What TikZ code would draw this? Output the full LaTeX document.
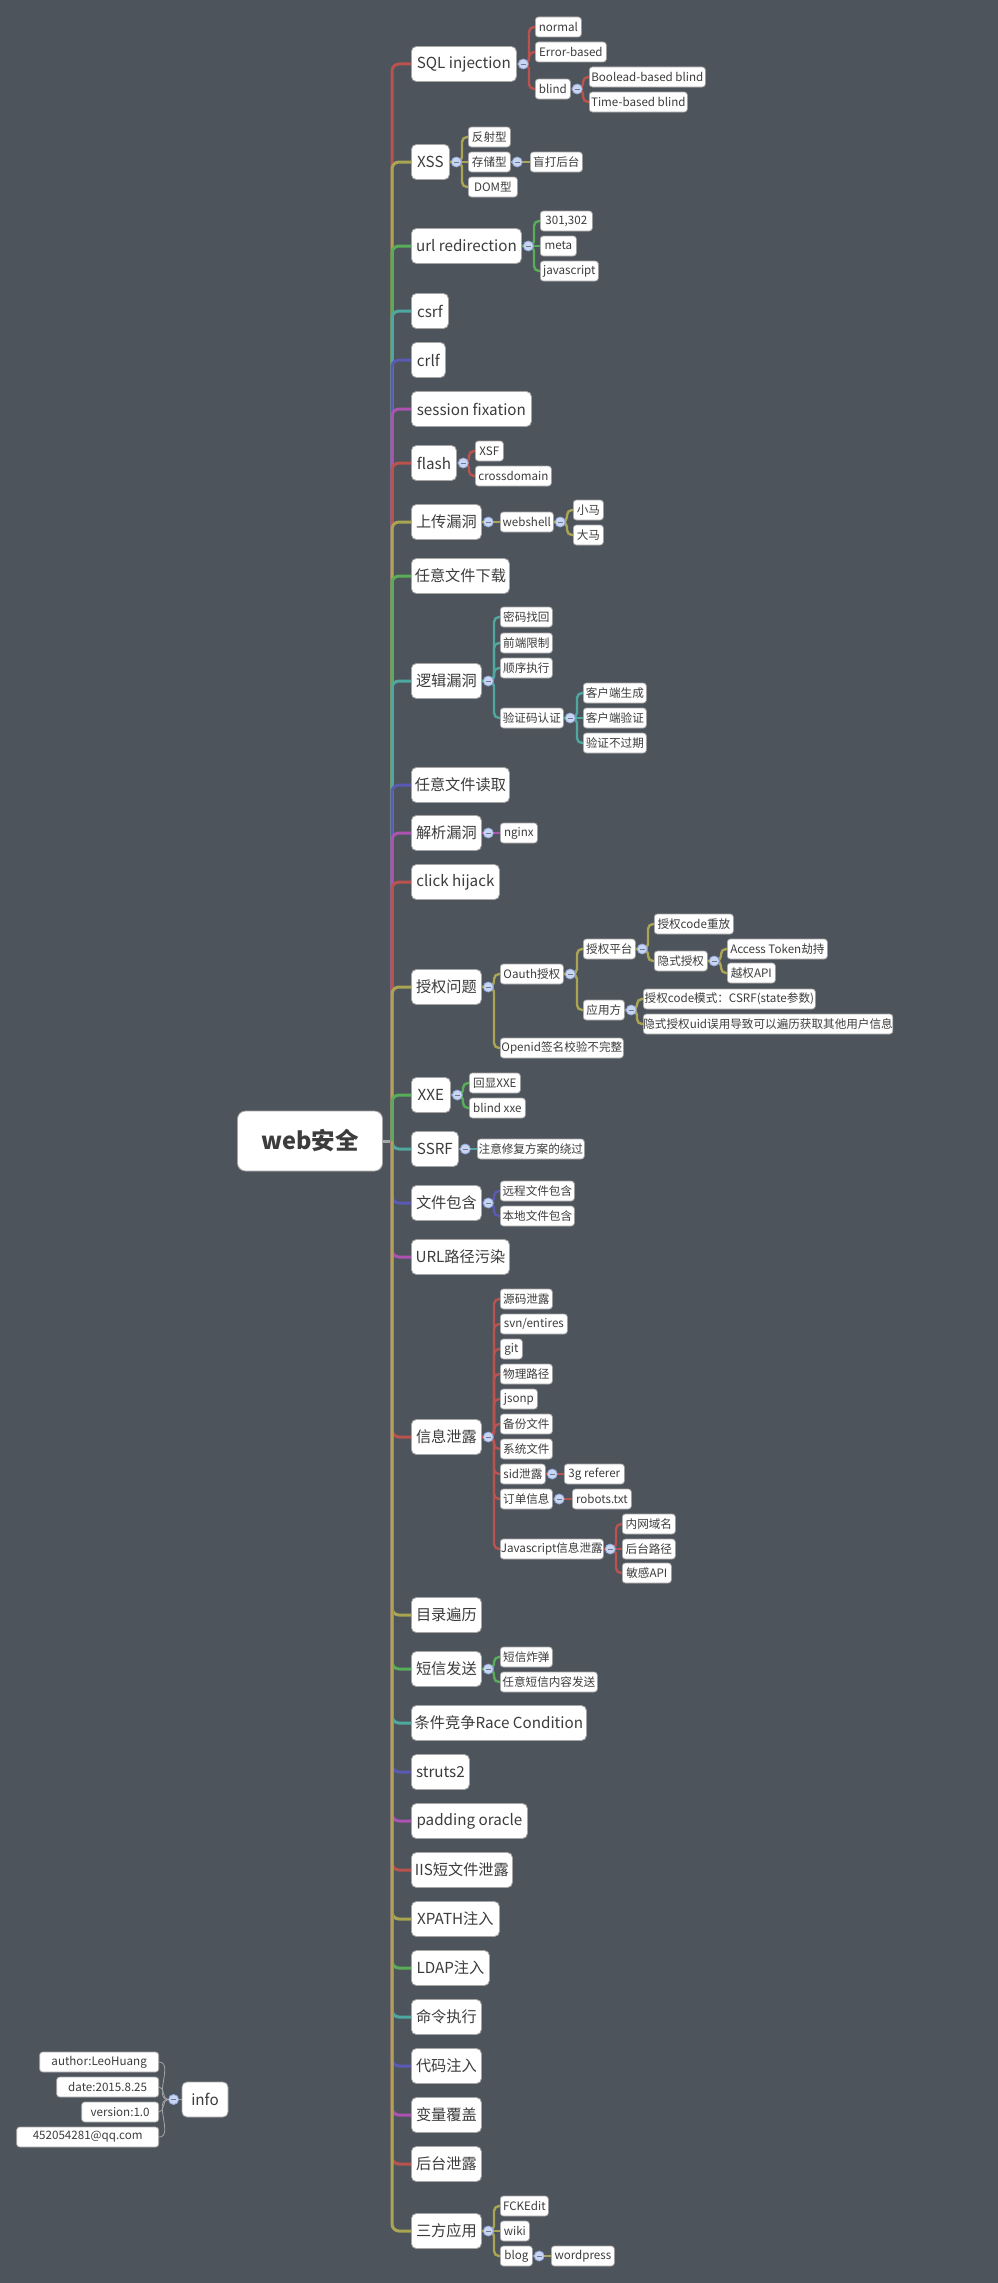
\documentclass[tikz,border=0pt]{standalone}
\usepackage{fontspec}
\setmainfont{Noto Sans CJK SC}
\usetikzlibrary{calc}
\definecolor{bgc}{RGB}{78,84,92}
\definecolor{cred}{RGB}{186,82,78}
\definecolor{colive}{RGB}{170,165,82}
\definecolor{cgreen}{RGB}{88,174,88}
\definecolor{cteal}{RGB}{78,168,160}
\definecolor{cblue}{RGB}{90,90,180}
\definecolor{cmag}{RGB}{172,82,176}
\definecolor{bordc}{RGB}{165,165,165}
\definecolor{txt}{RGB}{60,60,60}
\definecolor{circfill}{RGB}{200,214,242}
\definecolor{circdraw}{RGB}{150,170,220}
\definecolor{circminus}{RGB}{110,120,150}
\pgfdeclarelayer{bglayer}
\pgfdeclarelayer{linelayer}
\pgfsetlayers{bglayer,linelayer,main}
\tikzset{
  mn/.style={draw=bordc, line width=0.8pt, fill=white, rounded corners=5pt, minimum height=35pt, inner sep=0pt, anchor=west, text=txt, font=\fontsize{15.2}{16}\selectfont},
  sn/.style={draw=bordc, line width=0.7pt, fill=white, rounded corners=3pt, minimum height=20pt, inner sep=0pt, anchor=west, text=txt, font=\fontsize{11.6}{12}\selectfont},
  mb/.style={line width=3pt, rounded corners=7pt},
  sb/.style={line width=2.4pt, rounded corners=5pt},
  circ/.style={circle, fill=circfill, draw=circdraw, line width=0.8pt, minimum size=10pt, inner sep=0pt,
    path picture={\draw[circminus, line width=0.9pt] ([xshift=-2.5pt]path picture bounding box.center) -- ([xshift=2.5pt]path picture bounding box.center);}}
}
\begin{document}
\begin{tikzpicture}[x=1pt,y=-1pt]
\begin{pgfonlayer}{bglayer}
\fill[bgc] (0,0) rectangle (998,2283);
\end{pgfonlayer}
\useasboundingbox (0,0) rectangle (998,2283);

% root
\node[draw=bordc, line width=0.8pt, fill=white, rounded corners=8pt, minimum width=145pt, minimum height=60pt, inner sep=0pt, text=txt, font=\fontsize{23.5}{26}\selectfont\bfseries] (root) at (310,1141) {web安全};
\coordinate (hub) at (392,1141);

% main topics
\node[mn, minimum width=105pt] (sql) at (411,64) {SQL injection};
\node[mn, minimum width=38pt] (xss) at (411,162) {XSS};
\node[mn, minimum width=110pt] (url) at (411,246) {url redirection};
\node[mn, minimum width=37pt] (csrf) at (411,311) {csrf};
\node[mn, minimum width=34pt] (crlf) at (411,360) {crlf};
\node[mn, minimum width=120pt] (sess) at (411,409) {session fixation};
\node[mn, minimum width=45pt] (flash) at (411,463) {flash};
\node[mn, minimum width=70pt] (upl) at (411,522) {上传漏洞};
\node[mn, minimum width=98pt] (dl) at (411,576) {任意文件下载};
\node[mn, minimum width=70pt] (logic) at (411,681) {逻辑漏洞};
\node[mn, minimum width=98pt] (rd) at (411,785) {任意文件读取};
\node[mn, minimum width=70pt] (parse) at (411,833) {解析漏洞};
\node[mn, minimum width=88pt] (click) at (411,882) {click hijack};
\node[mn, minimum width=70pt] (auth) at (411,987) {授权问题};
\node[mn, minimum width=39pt] (xxe) at (411,1095) {XXE};
\node[mn, minimum width=47pt] (ssrf) at (411,1149) {SSRF};
\node[mn, minimum width=70pt] (incl) at (411,1203) {文件包含};
\node[mn, minimum width=98pt] (urlp) at (411,1257) {URL路径污染};
\node[mn, minimum width=70pt] (leak) at (411,1437) {信息泄露};
\node[mn, minimum width=70pt] (dir) at (411,1615) {目录遍历};
\node[mn, minimum width=70pt] (sms) at (411,1669) {短信发送};
\node[mn, minimum width=175pt] (race) at (411,1723) {条件竞争Race Condition};
\node[mn, minimum width=58pt] (struts) at (411,1772) {struts2};
\node[mn, minimum width=116pt] (pad) at (411,1821) {padding oracle};
\node[mn, minimum width=101pt] (iis) at (411,1870) {IIS短文件泄露};
\node[mn, minimum width=88pt] (xpath) at (411,1919) {XPATH注入};
\node[mn, minimum width=78pt] (ldap) at (411,1968) {LDAP注入};
\node[mn, minimum width=70pt] (cmd) at (411,2017) {命令执行};
\node[mn, minimum width=70pt] (code) at (411,2066) {代码注入};
\node[mn, minimum width=70pt] (var) at (411,2115) {变量覆盖};
\node[mn, minimum width=70pt] (back) at (411,2164) {后台泄露};
\node[mn, minimum width=70pt] (third) at (411,2231) {三方应用};

% sub topics
\node[sn, minimum width=46pt] (s1) at (535,27) {normal};
\node[sn, minimum width=71pt] (s2) at (535,52) {Error-based};
\node[sn, minimum width=35pt] (s3) at (535,89) {blind};
\node[sn, minimum width=116pt] (s31) at (589,77) {Boolead-based blind};
\node[sn, minimum width=98pt] (s32) at (589,102) {Time-based blind};

\node[sn, minimum width=42pt] (x1) at (468,137) {反射型};
\node[sn, minimum width=42pt] (x2) at (468,162) {存储型};
\node[sn, minimum width=52pt] (x21) at (530,162) {盲打后台};
\node[sn, minimum width=49pt] (x3) at (468,187) {DOM型};

\node[sn, minimum width=52pt] (u1) at (540,221) {301,302};
\node[sn, minimum width=36pt] (u2) at (540,246) {meta};
\node[sn, minimum width=58pt] (u3) at (540,271) {javascript};

\node[sn, minimum width=28pt] (f1) at (475,451) {XSF};
\node[sn, minimum width=76pt] (f2) at (475,476) {crossdomain};

\node[sn, minimum width=53pt] (w1) at (500,522) {webshell};
\node[sn, minimum width=30pt] (w11) at (573,510) {小马};
\node[sn, minimum width=30pt] (w12) at (573,535) {大马};

\node[sn, minimum width=52pt] (l1) at (500,617) {密码找回};
\node[sn, minimum width=52pt] (l2) at (500,643) {前端限制};
\node[sn, minimum width=52pt] (l3) at (500,668) {顺序执行};
\node[sn, minimum width=63pt] (l4) at (500,718) {验证码认证};
\node[sn, minimum width=63pt] (l41) at (583,693) {客户端生成};
\node[sn, minimum width=63pt] (l42) at (583,718) {客户端验证};
\node[sn, minimum width=63pt] (l43) at (583,743) {验证不过期};

\node[sn, minimum width=37pt] (p1) at (500,833) {nginx};

\node[sn, minimum width=63pt] (a1) at (500,974) {Oauth授权};
\node[sn, minimum width=52pt] (a11) at (583,949) {授权平台};
\node[sn, minimum width=79pt] (a111) at (654,924) {授权code重放};
\node[sn, minimum width=53pt] (a112) at (654,961) {隐式授权};
\node[sn, minimum width=100pt] (a1121) at (727,949) {Access Token劫持};
\node[sn, minimum width=48pt] (a1122) at (727,973) {越权API};
\node[sn, minimum width=41pt] (a12) at (583,1010) {应用方};
\node[sn, minimum width=172pt] (a121) at (643,999) {授权code模式：CSRF(state参数)};
\node[sn, minimum width=245pt] (a122) at (643,1024) {隐式授权uid误用导致可以遍历获取其他用户信息};
\node[sn, minimum width=123pt] (a2) at (500,1048) {Openid签名校验不完整};

\node[sn, minimum width=51pt] (e1) at (469,1083) {回显XXE};
\node[sn, minimum width=56pt] (e2) at (469,1108) {blind xxe};

\node[sn, minimum width=107pt] (r1) at (477,1149) {注意修复方案的绕过};

\node[sn, minimum width=74pt] (i1) at (500,1191) {远程文件包含};
\node[sn, minimum width=74pt] (i2) at (500,1216) {本地文件包含};

\node[sn, minimum width=52pt] (k1) at (500,1299) {源码泄露};
\node[sn, minimum width=67pt] (k2) at (500,1324) {svn/entires};
\node[sn, minimum width=22pt] (k3) at (500,1349) {git};
\node[sn, minimum width=52pt] (k4) at (500,1374) {物理路径};
\node[sn, minimum width=37pt] (k5) at (500,1399) {jsonp};
\node[sn, minimum width=52pt] (k6) at (500,1424) {备份文件};
\node[sn, minimum width=52pt] (k7) at (500,1449) {系统文件};
\node[sn, minimum width=45pt] (k8) at (500,1474) {sid泄露};
\node[sn, minimum width=60pt] (k81) at (564,1474) {3g referer};
\node[sn, minimum width=52pt] (k9) at (500,1499) {订单信息};
\node[sn, minimum width=59pt] (k91) at (572,1499) {robots.txt};
\node[sn, minimum width=103pt] (k10) at (500,1549) {Javascript信息泄露};
\node[sn, minimum width=53pt] (k101) at (622,1524) {内网域名};
\node[sn, minimum width=53pt] (k102) at (622,1549) {后台路径};
\node[sn, minimum width=49pt] (k103) at (622,1573) {敏感API};

\node[sn, minimum width=52pt] (m1) at (500,1657) {短信炸弹};
\node[sn, minimum width=97pt] (m2) at (500,1682) {任意短信内容发送};

\node[sn, minimum width=48pt] (t1) at (500,2206) {FCKEdit};
\node[sn, minimum width=29pt] (t2) at (500,2231) {wiki};
\node[sn, minimum width=32pt] (t3) at (500,2256) {blog};
\node[sn, minimum width=63pt] (t31) at (551,2256) {wordpress};

% info floating topic
\node[mn, anchor=center, minimum width=46pt] (info) at (205,2099.5) {info};
\node[sn, anchor=east, minimum width=119pt] (ia) at (159,2062) {author:LeoHuang};
\node[sn, anchor=east, minimum width=102pt] (ib) at (159,2087) {date:2015.8.25};
\node[sn, anchor=east, minimum width=77pt] (ic) at (159,2112) {version:1.0};
\node[sn, anchor=east, minimum width=142pt] (id) at (159,2137) {452054281@qq.com};

\begin{pgfonlayer}{linelayer}
\draw[line width=3pt, draw=bordc] (root.east) -- (hub);
% upper branches, top to bottom
\foreach \n/\c in {sql/cred, xss/colive, url/cgreen, csrf/cteal, crlf/cblue, sess/cmag, flash/cred, upl/colive, dl/cgreen, logic/cteal, rd/cblue, parse/cmag, click/cred, auth/colive, xxe/cgreen}
  \draw[mb, draw=\c] (hub) |- (\n.west);
% lower branches, nearest first
\foreach \n/\c in {ssrf/cteal, incl/cblue, urlp/cmag, leak/cred, dir/colive, sms/cgreen, race/cteal, struts/cblue, pad/cmag, iis/cred, xpath/colive, ldap/cgreen, cmd/cteal, code/cblue, var/cmag, back/cred, third/colive}
  \draw[mb, draw=\c] (hub) |- (\n.west);
% bent sub links
\foreach \p/\ch/\c in {sql/s1/cred, sql/s2/cred, sql/s3/cred, s3/s31/cred, s3/s32/cred,
  xss/x1/colive, xss/x3/colive, url/u1/cgreen, url/u3/cgreen, flash/f1/cred, flash/f2/cred,
  w1/w11/colive, w1/w12/colive, logic/l1/cteal, logic/l2/cteal, logic/l3/cteal, logic/l4/cteal,
  l4/l41/cteal, l4/l43/cteal, auth/a1/colive, auth/a2/colive, a1/a11/colive, a1/a12/colive,
  a11/a111/colive, a11/a112/colive, a112/a1121/colive, a112/a1122/colive, a12/a121/colive, a12/a122/colive,
  xxe/e1/cgreen, xxe/e2/cgreen, incl/i1/cblue, incl/i2/cblue,
  leak/k1/cred, leak/k2/cred, leak/k3/cred, leak/k4/cred, leak/k5/cred, leak/k6/cred, leak/k7/cred,
  leak/k8/cred, leak/k9/cred, leak/k10/cred, k10/k101/cred, k10/k103/cred,
  sms/m1/cgreen, sms/m2/cgreen, third/t1/colive, third/t3/colive}
  \draw[sb, draw=\c] (\p.east) -| ([xshift=-6pt]\ch.west) -- (\ch.west);
% straight sub links
\foreach \p/\ch/\c in {xss/x2/colive, x2/x21/colive, url/u2/cgreen, upl/w1/colive, l4/l42/cteal,
  parse/p1/cmag, ssrf/r1/cteal, k8/k81/cred, k9/k91/cred, k10/k102/cred, third/t2/colive, t3/t31/colive}
  \draw[sb, draw=\c] (\p.east) -- (\ch.west);
% info links
\coordinate (ij) at (168,2099.5);
\foreach \ch in {ia, ib, ic, id}
  \draw[line width=0.8pt, draw=bordc] (ij) to[out=180, in=0] (\ch.east);
\draw[line width=0.8pt, draw=bordc] (ij) -- (info.west);
\end{pgfonlayer}

% collapse markers
\foreach \p in {sql, s3, xss, x2, url, flash, upl, w1, logic, l4, parse, auth, a1, a11, a112, a12, xxe, ssrf, incl, leak, k8, k9, k10, sms, third, t3}
  \node[circ] (c\p) at ([xshift=6.5pt]\p.east) {};
\node[circ] (cinfo) at ([xshift=-8pt]info.west) {};
\end{tikzpicture}
\end{document}
